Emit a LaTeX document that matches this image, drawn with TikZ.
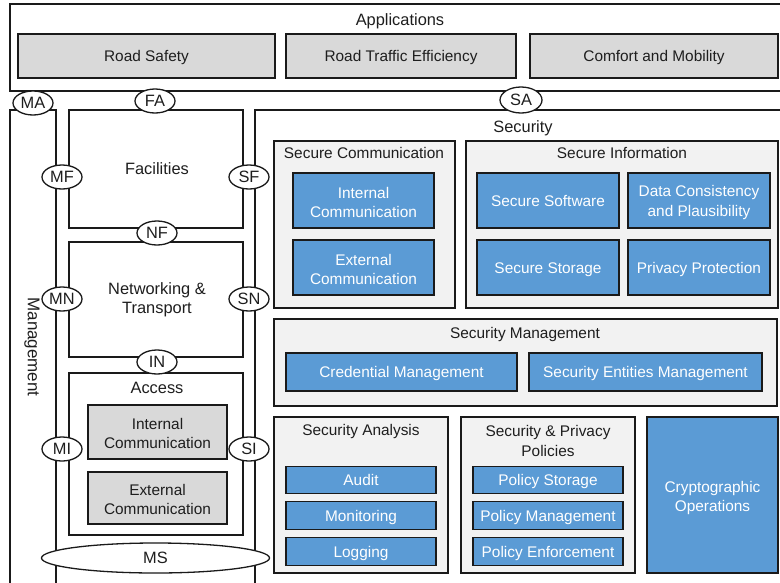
\documentclass[tikz,border=0pt]{standalone}
\usepackage{fontspec}
\setmainfont{Liberation Sans}
\usetikzlibrary{shapes.geometric}
\definecolor{bl}{HTML}{5B9BD5}
\definecolor{gapp}{HTML}{D9D9D9}
\definecolor{cont}{HTML}{F2F2F2}
\definecolor{ln}{HTML}{1A1A1A}
\definecolor{txt}{HTML}{1E1E1E}
\begin{document}
\begin{tikzpicture}[x=1pt,y=-1pt,
  font=\fontsize{15.4}{19.5}\selectfont,
  sz/.style 2 args={minimum width=#1pt, minimum height=#2pt},
  capA/.style={text height=11pt, text depth=0pt},
  capB/.style={text height=11.7pt, text depth=0pt},
  frame/.style={draw=ln, line width=1.5pt, fill=white, inner sep=0pt, outer sep=0pt},
  appbox/.style={draw=ln, line width=1.6pt, fill=gapp, inner sep=0pt, outer sep=0pt, align=center, text=txt},
  contbox/.style={draw=ln, line width=1.4pt, fill=cont, inner sep=0pt, outer sep=0pt},
  bluebox/.style={draw=ln, line width=1.6pt, fill=bl, inner sep=0pt, outer sep=0pt, align=center, text=white},
  wtxt/.style={text=white, align=center, inner sep=0pt, yshift=-2pt},
  dtxt/.style={text=txt, align=center, inner sep=0pt, yshift=-1.5pt},
  iface/.style={ellipse, draw=ln, line width=1.3pt, fill=white, inner sep=0pt, outer sep=0pt, minimum width=40pt, minimum height=24pt, text=txt, font=\fontsize{16.4}{19}\selectfont, capB},
  lbl/.style={text=txt, inner sep=0pt, align=center},
  big/.style={font=\fontsize{16.4}{19.5}\selectfont},
  hdr/.style={text=txt, inner sep=0pt, font=\fontsize{16.4}{19}\selectfont, capB}]
\useasboundingbox (0,0) rectangle (780,582);
\fill[white] (0,0) rectangle (780,582);
\clip (0,0) rectangle (780,582);

% Applications
\node[frame, sz={790}{87}] (apps) at (405,47.5) {};
\node[hdr] (appsT) at (400,20) {Applications};
\node[appbox, capA, sz={257}{44}] (road) at (146.5,56) {Road Safety};
\node[appbox, capA, sz={230}{44}] (traffic) at (401,56) {Road Traffic Efficiency};
\node[appbox, capA, sz={248}{44}] (comfort) at (654,56) {Comfort and Mobility};

% Management and Security frames
\node[frame, sz={46}{490}] (mgmt) at (33,355) {};
\node[lbl, rotate=-90, font=\fontsize{17}{19}\selectfont] (mgmtT) at (32,347) {Management};
\node[frame, sz={545}{490}] (sec) at (527.5,355) {};
\node[hdr] (secT) at (523,127) {Security};

% Layers
\node[frame, sz={174}{118}] (fac) at (156,169) {};
\node[lbl, big, capB] (facT) at (157,169) {Facilities};
\node[frame, sz={174}{115}] (net) at (156,299.5) {};
\node[lbl, big] (netT) at (157,300) {Networking \&\\Transport};
\node[frame, sz={174}{162}] (acc) at (156,454) {};
\node[lbl, big, capB] (accT) at (157,388) {Access};
\node[appbox, sz={139}{54}, label={[dtxt]center:{Internal\\Communication}}] (accInt) at (157.5,432) {};
\node[appbox, sz={139}{52}, label={[dtxt]center:{External\\Communication}}] (accExt) at (157.5,498) {};

% Interfaces
\node[iface] (MA) at (33,103) {MA};
\node[iface] (FA) at (155,101) {FA};
\node[iface, minimum width=42pt, minimum height=26pt] (SA) at (521,100) {SA};
\node[iface] (MF) at (62,177) {MF};
\node[iface] (SF) at (249,177) {SF};
\node[iface] (NF) at (157,233) {NF};
\node[iface] (MN) at (62,299) {MN};
\node[iface] (SN) at (249,299) {SN};
\node[iface] (IN) at (157,362) {IN};
\node[iface] (MI) at (62,449) {MI};
\node[iface] (SI) at (249,449) {SI};
\node[iface, minimum width=228pt, minimum height=30pt] (MS) at (155.5,558) {MS};

% Secure Communication
\node[contbox, sz={181}{167}] (scom) at (364.5,224.5) {};
\node[lbl, capA] (scomT) at (364,153) {Secure Communication};
\node[bluebox, sz={141}{55}, label={[wtxt]center:{Internal\\Communication}}] (sInt) at (363.5,200.5) {};
\node[bluebox, sz={141}{55}, label={[wtxt]center:{External\\Communication}}] (sExt) at (363.5,267.5) {};

% Secure Information
\node[contbox, sz={312}{167}] (sinf) at (622,224.5) {};
\node[lbl, capA] (sinfT) at (622,153) {Secure Information};
\node[bluebox, capA, sz={142}{55}] (ssw) at (548,200.5) {Secure Software};
\node[bluebox, sz={142}{55}, label={[wtxt]center:{Data Consistency\\and Plausibility}}] (dcp) at (699,200.5) {};
\node[bluebox, capA, sz={142}{55}] (sst) at (548,267.5) {Secure Storage};
\node[bluebox, capA, sz={142}{55}] (pp) at (699,267.5) {Privacy Protection};

% Security Management
\node[contbox, sz={503}{87}] (smg) at (525.5,362.5) {};
\node[lbl, capA] (smgT) at (525,333) {Security Management};
\node[bluebox, capA, sz={231}{38}] (cred) at (401.5,372) {Credential Management};
\node[bluebox, capA, sz={233}{38}] (sem) at (645.5,372) {Security Entities Management};

% Security Analysis
\node[contbox, sz={174}{156}] (san) at (361,495) {};
\node[lbl, capA] (sanT) at (361,430) {Security Analysis};
\node[bluebox, capA, sz={150}{27}] (audit) at (361,480) {Audit};
\node[bluebox, capA, sz={150}{28}] (mon) at (361,515.5) {Monitoring};
\node[bluebox, capA, sz={150}{28}] (log) at (361,551.5) {Logging};

% Security & Privacy Policies
\node[contbox, sz={174}{156}] (spp) at (548,495) {};
\node[lbl] (sppT) at (548,441) {Security \& Privacy\\Policies};
\node[bluebox, capA, sz={150}{27}] (pst) at (548,480) {Policy Storage};
\node[bluebox, capA, sz={150}{28}] (pmg) at (548,515.5) {Policy Management};
\node[bluebox, capA, sz={150}{28}] (penf) at (548,551.5) {Policy Enforcement};

% Cryptographic Operations
\node[bluebox, sz={131}{156}, label={[wtxt, yshift=-1pt]center:{Cryptographic\\Operations}}] (crypto) at (712.5,495) {};
\end{tikzpicture}
\end{document}
